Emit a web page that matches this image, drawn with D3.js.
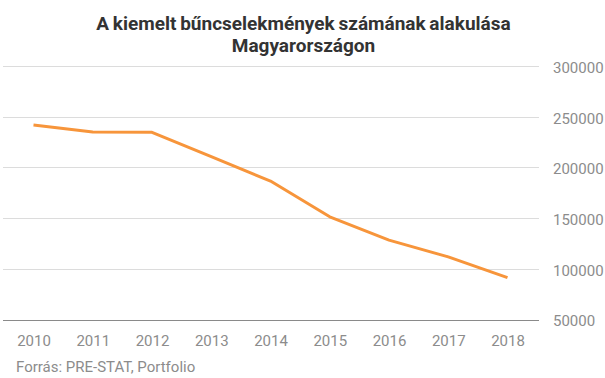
<!DOCTYPE html>
<html><head><meta charset="utf-8">
<script src="https://cdn.jsdelivr.net/npm/d3@7/dist/d3.min.js"></script>
<style>
html,body{margin:0;padding:0;background:#fff;}
svg{display:block;font-family:Roboto,"Noto Sans",sans-serif;}
</style></head>
<body><svg id="c" width="605" height="378"></svg>
<script>
const years = ["2010","2011","2012","2013","2014","2015","2016","2017","2018"];
const crimes = [241800, 235000, 234600, 210700, 186500, 151300, 128300, 111800, 91300];
const yTicks = [50000, 100000, 150000, 200000, 250000, 300000];
const titleLines = ["A kiemelt bűncselekmények számának alakulása", "Magyarországon"];
const sourceText = "Forrás: PRE-STAT, Portfolio";

const svg = d3.select("#c");
const left = 3, right = 539;
const x = d3.scalePoint().domain(years).range([33.5, 507.5]);
const y = d3.scaleLinear().domain([50000, 300000]).range([319.5, 66]);

// gridlines
svg.append("g").selectAll("line").data(yTicks).join("line")
  .attr("x1", left).attr("x2", right)
  .attr("y1", d => Math.round(y(d)) + 0.5).attr("y2", d => Math.round(y(d)) + 0.5)
  .attr("stroke", d => d === 50000 ? "#8a8a8a" : "#dcdcdc")
  .attr("stroke-width", 1);

// y axis labels (right)
const yAxis = d3.axisRight(y).tickValues(yTicks).tickSize(0).tickPadding(0).tickFormat(d3.format("d"));
const gy = svg.append("g").attr("transform", "translate(553,0)").call(yAxis);
gy.select(".domain").remove();
gy.selectAll("text").attr("dy", "0.42em").attr("fill", "#8c8c8c")
  .style("font-size", "15px").style("font-family", "Roboto");

// x axis labels
const xAxis = d3.axisBottom(x).tickSize(0).tickPadding(0);
const gx = svg.append("g").attr("transform", "translate(0,346)").call(xAxis);
gx.select(".domain").remove();
gx.selectAll("text").attr("y", 0).attr("dy", 0).attr("fill", "#8c8c8c")
  .style("font-size", "15px").style("font-family", "Roboto");

// line
const line = d3.line().x((d, i) => x(years[i])).y(d => y(d));
svg.append("path").datum(crimes)
  .attr("d", line)
  .attr("fill", "none")
  .attr("stroke", "#f7953b")
  .attr("stroke-width", 3)
  .attr("stroke-linejoin", "round");

// title
svg.append("g").selectAll("text").data(titleLines).join("text")
  .attr("x", 303.5).attr("y", (d, i) => 30 + i * 22)
  .attr("text-anchor", "middle")
  .attr("fill", "#333333")
  .style("font-size", "19px").style("font-weight", "700")
  .style("word-spacing", "-1px")
  .text(d => d);

// source
svg.append("text").attr("x", 16).attr("y", 372)
  .attr("fill", "#8c8c8c").style("font-size", "15px")
  .text(sourceText);
</script></body></html>
